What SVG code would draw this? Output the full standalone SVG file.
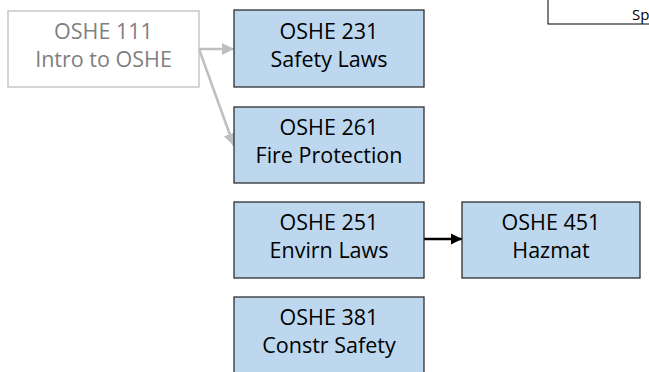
<svg xmlns="http://www.w3.org/2000/svg" width="649" height="372" viewBox="0 0 649 372">
<style>
.box{fill:#bdd7ee;stroke:#2f2f2f;stroke-width:1.3}
.gbox{fill:#fff;stroke:#bfbfbf;stroke-width:1.3}
text{font-family:"Open Sans","Liberation Sans",sans-serif;font-size:21.5px;text-anchor:middle;fill:#000}
.g{fill:#7f7f7f}
</style>
<defs>
<marker id="ga" viewBox="0 0 10 10" refX="10" refY="5" markerWidth="5" markerHeight="5" orient="auto" markerUnits="strokeWidth"><path d="M0,0L10,5L0,10z" fill="#bfbfbf"/></marker>
<marker id="ba" viewBox="0 0 10 10" refX="10" refY="5" markerWidth="4.5" markerHeight="4.5" orient="auto" markerUnits="strokeWidth"><path d="M0,0L10,5L0,10z" fill="#000"/></marker>
</defs>
<rect width="649" height="372" fill="#fff"/>
<g id="connectors">
<line x1="199" y1="49" x2="234" y2="49" stroke="#bfbfbf" stroke-width="2.5" marker-end="url(#ga)"/>
<line x1="199" y1="49" x2="234" y2="146" stroke="#bfbfbf" stroke-width="2.5" marker-end="url(#ga)"/>
<line x1="424" y1="239" x2="462" y2="239" stroke="#000" stroke-width="2.5" marker-end="url(#ba)"/>
</g>
<g id="oshe111"><rect class="gbox" x="8" y="11" width="191" height="76"/><text class="g" x="103.5" y="39">OSHE 111</text><text class="g" x="103.5" y="67">Intro to OSHE</text></g>
<g id="oshe231"><rect class="box" x="234" y="10" width="190" height="77"/><text x="329" y="39">OSHE 231</text><text x="329" y="67">Safety Laws</text></g>
<g id="oshe261"><rect class="box" x="234" y="107" width="190" height="76"/><text x="329" y="135">OSHE 261</text><text x="329" y="163">Fire Protection</text></g>
<g id="oshe251"><rect class="box" x="234" y="202" width="190" height="76"/><text x="329" y="230">OSHE 251</text><text x="329" y="258">Envirn Laws</text></g>
<g id="oshe451"><rect class="box" x="462" y="202" width="178" height="76"/><text x="551" y="230">OSHE 451</text><text x="551" y="258">Hazmat</text></g>
<g id="oshe381"><rect class="box" x="234" y="297" width="190" height="90"/><text x="329" y="325">OSHE 381</text><text x="329" y="353">Constr Safety</text></g>
<g id="topright"><rect x="548" y="-10" width="120" height="34" fill="#fff" stroke="#000" stroke-width="1"/><text x="632" y="20" style="font-size:15px;text-anchor:start">Sp</text></g>
</svg>
